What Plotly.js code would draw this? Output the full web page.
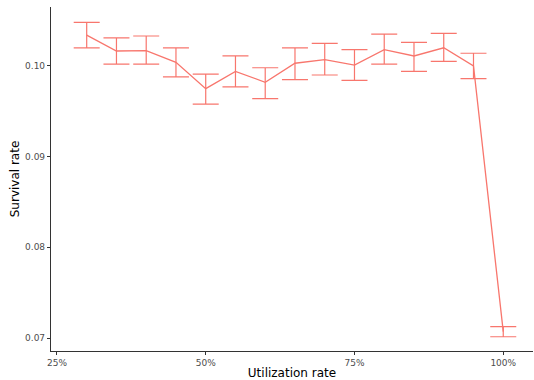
<!DOCTYPE html>
<html>
<head>
<meta charset="utf-8">
<script src="https://cdn.plot.ly/plotly-3.0.1.min.js"></script>
<style>html,body{margin:0;padding:0;background:#fff}#chart{width:534px;height:380px}</style>
</head>
<body>
<div id="chart"></div>
<script>
const utilization = [30, 35, 40, 45, 50, 55, 60, 65, 70, 75, 80, 85, 90, 95, 100];
const survival    = [0.1034, 0.10165, 0.1017, 0.1004, 0.0975, 0.0994, 0.0982, 0.1003, 0.1007, 0.1001, 0.1018, 0.1011, 0.1020, 0.1000, 0.0707];
const errUpper    = [0.1048, 0.1031, 0.1033, 0.1020, 0.0991, 0.1011, 0.0998, 0.1020, 0.1025, 0.1018, 0.1035, 0.1026, 0.1036, 0.1014, 0.07125];
const errLower    = [0.1020, 0.1002, 0.1002, 0.0988, 0.0958, 0.0977, 0.0964, 0.0985, 0.0990, 0.0984, 0.1002, 0.0994, 0.1005, 0.0986, 0.07014];
const xTickVals   = [25, 50, 75, 100];
const xTickText   = ['25%', '50%', '75%', '100%'];
const yTickVals   = [0.07, 0.08, 0.09, 0.10];
const yTickText   = ['0.07', '0.08', '0.09', '0.10'];

const color = '#F8766D';
const trace = {
  x: utilization,
  y: survival,
  type: 'scatter',
  mode: 'lines',
  line: {color: color, width: 1.3},
  error_y: {
    type: 'data',
    symmetric: false,
    array: errUpper.map((u, i) => u - survival[i]),
    arrayminus: survival.map((s, i) => s - errLower[i]),
    color: color,
    thickness: 1.2,
    width: 13
  },
  hoverinfo: 'skip'
};

const axisCommon = {
  showgrid: false,
  zeroline: false,
  showline: true,
  linecolor: '#333333',
  linewidth: 1.1,
  ticks: 'outside',
  ticklen: 3,
  tickwidth: 1,
  tickcolor: '#333333',
  tickfont: {family: 'DejaVu Sans, sans-serif', size: 9, color: '#4d4d4d'}
};

const layout = {
  width: 534,
  height: 380,
  margin: {l: 51, r: 1, t: 7, b: 29},
  paper_bgcolor: '#ffffff',
  plot_bgcolor: '#ffffff',
  showlegend: false,
  font: {family: 'DejaVu Sans, sans-serif'},
  xaxis: Object.assign({}, axisCommon, {
    range: [24, 105],
    tickvals: xTickVals,
    ticktext: xTickText,
    title: {text: 'Utilization rate', font: {size: 12, color: '#000000'}, standoff: 3}
  }),
  yaxis: Object.assign({}, axisCommon, {
    range: [0.06857, 0.1065],
    tickvals: yTickVals,
    ticktext: yTickText,
    title: {text: 'Survival rate', font: {size: 12, color: '#000000'}, standoff: 2}
  })
};

Plotly.newPlot('chart', [trace], layout, {displayModeBar: false, staticPlot: true});
</script>
</body>
</html>
